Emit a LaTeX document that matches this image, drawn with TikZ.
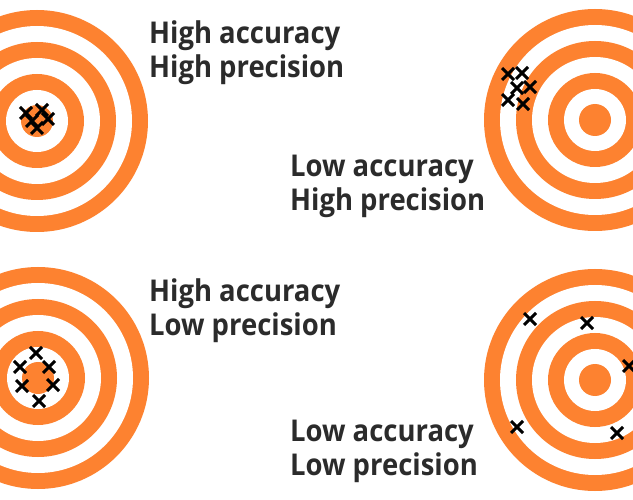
\documentclass[tikz,border=0pt]{standalone}
\usepackage{fontspec}
\setmainfont{Open Sans}
\definecolor{tgtorange}{HTML}{FD8230}
\definecolor{txtgray}{HTML}{2B2B2B}
\tikzset{
  x=1pt, y=-1pt,
  pics/target/.style={code={
    \fill[tgtorange] (0,0) circle[radius=111];
    \fill[white] (0,0) circle[radius=95];
    \fill[tgtorange] (0,0) circle[radius=79];
    \fill[white] (0,0) circle[radius=63];
    \fill[tgtorange] (0,0) circle[radius=47];
    \fill[white] (0,0) circle[radius=31];
    \fill[tgtorange] (0,0) circle[radius=16];
  }},
  pics/xmark/.style={code={
    \draw[line width=3pt, black] (-6,-6) -- (6,6) (-6,6) -- (6,-6);
  }},
  label/.style={anchor=base west, inner sep=0pt, text=txtgray, xscale=0.915, font=\fontsize{30}{30}\selectfont\bfseries}
}
\begin{document}
\begin{tikzpicture}
\useasboundingbox (0,0) rectangle (633,500);
\fill[white] (0,0) rectangle (633,500);
\begin{scope}
\clip (0,0) rectangle (633,500);
\pic at (37,121) {target};
\pic at (595,120) {target};
\pic at (38,378) {target};
\pic at (595,380) {target};
% top-left crosses
\pic at (26,113) {xmark};
\pic at (42,110) {xmark};
\pic at (48,119) {xmark};
\pic at (32,121) {xmark};
\pic at (37,128) {xmark};
% top-right crosses
\pic at (508,74) {xmark};
\pic at (522,73) {xmark};
\pic at (517,88) {xmark};
\pic at (530,87) {xmark};
\pic at (508,100) {xmark};
\pic at (523,104) {xmark};
% bottom-left crosses
\pic at (36,353) {xmark};
\pic at (20,367) {xmark};
\pic at (49,367) {xmark};
\pic at (22,386) {xmark};
\pic at (53,385) {xmark};
\pic at (39,401) {xmark};
% bottom-right crosses
\pic at (530,319) {xmark};
\pic at (587,323) {xmark};
\pic at (629,366) {xmark};
\pic at (517,427) {xmark};
\pic at (617,433) {xmark};
\end{scope}
\node[label] (tl1) at (149,43.5) {High accuracy};
\node[label] (tl2) at (149,78) {High precision};
\node[label] (tr1) at (290,176.5) {Low accuracy};
\node[label] (tr2) at (290,210.5) {High precision};
\node[label] (bl1) at (149,301.5) {High accuracy};
\node[label] (bl2) at (149,336) {Low precision};
\node[label] (br1) at (290,441.5) {Low accuracy};
\node[label] (br2) at (290,475.5) {Low precision};
\end{tikzpicture}
\end{document}
